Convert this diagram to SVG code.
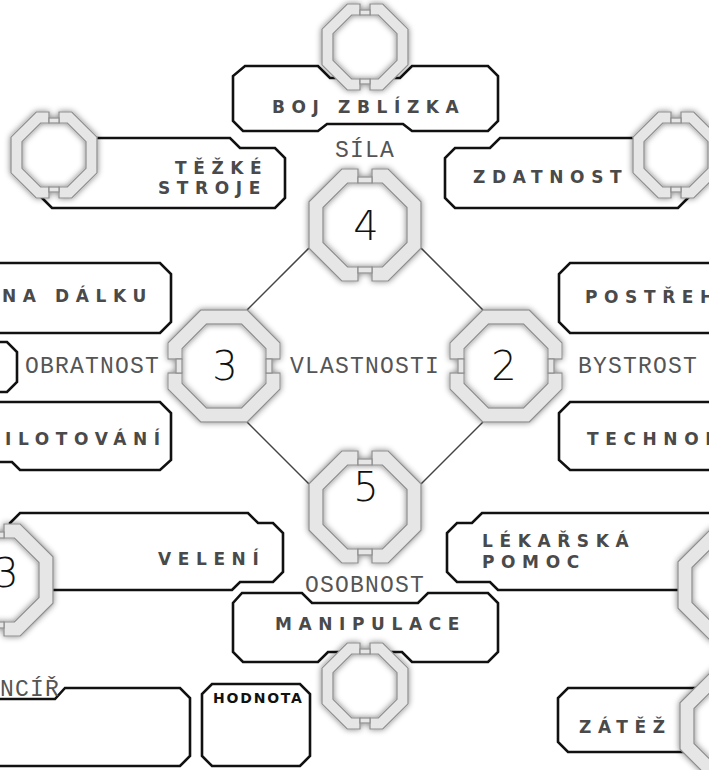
<svg xmlns="http://www.w3.org/2000/svg" width="709" height="770" viewBox="0 0 709 770">
<defs>
<style>
.box{fill:#fff;stroke:#111;stroke-width:2.6;stroke-linejoin:miter}
.ring{fill:#e6e6e6;stroke:#8e8e8e;stroke-width:1.2}
.hole{fill:#fff}
.sk{font-family:"DejaVu Sans",Verdana,sans-serif;font-weight:bold;font-size:17px;letter-spacing:6.6px;fill:#4a4a4a}
.mono{font-family:"Liberation Mono","DejaVu Sans Mono",monospace;font-size:23px;letter-spacing:1.2px;fill:#555}
.num{font-family:"DejaVu Sans",sans-serif;font-weight:200;font-size:40px;fill:#111;text-anchor:middle}
.ln{stroke:#444;stroke-width:1.5;fill:none}
.hd{font-family:"DejaVu Sans",sans-serif;font-weight:bold;font-size:14px;letter-spacing:1.8px;fill:#111}
</style>
<filter id="glow" x="-30%" y="-30%" width="160%" height="160%">
<feGaussianBlur in="SourceAlpha" stdDeviation="3.2"/>
<feComponentTransfer><feFuncA type="linear" slope="0.5"/></feComponentTransfer>
<feMerge><feMergeNode/><feMergeNode in="SourceGraphic"/></feMerge>
</filter>
<g id="ringB">
<polygon class="hole" points="-23.2,-56 23.2,-56 56,-23.2 56,23.2 23.2,56 -23.2,56 -56,23.2 -56,-23.2"/>
<g filter="url(#glow)">
<path class="ring" d="M-7,-56H-23.2L-56,-23.2V23.2L-23.2,56H-7V42H-17.4L-42,17.4V-17.4L-17.4,-42H-7Z"/>
<path class="ring" d="M7,-56H23.2L56,-23.2V23.2L23.2,56H7V42H17.4L42,17.4V-17.4L17.4,-42H7Z"/>
<rect class="ring" x="-7" y="-48" width="14" height="6"/>
<rect class="ring" x="-7" y="42" width="14" height="6"/>
</g>
</g>
<g id="ringS">
<polygon class="hole" points="-17.8,-43 17.8,-43 43,-17.8 43,17.8 17.8,43 -17.8,43 -43,17.8 -43,-17.8"/>
<g filter="url(#glow)">
<path class="ring" d="M-5,-43H-17.8L-43,-17.8V17.8L-17.8,43H-5V32H-13.3L-32,13.3V-13.3L-13.3,-32H-5Z"/>
<path class="ring" d="M5,-43H17.8L43,-17.8V17.8L17.8,43H5V32H13.3L32,13.3V-13.3L13.3,-32H5Z"/>
<rect class="ring" x="-5" y="-37" width="10" height="5"/>
<rect class="ring" x="-5" y="32" width="10" height="5"/>
</g>
</g>
</defs>
<rect width="709" height="770" fill="#fff"/>

<g id="connectors">
<line class="ln" x1="309" y1="248" x2="247" y2="310"/>
<line class="ln" x1="421" y1="248" x2="483" y2="310"/>
<line class="ln" x1="247" y1="422" x2="309" y2="484"/>
<line class="ln" x1="483" y1="422" x2="421" y2="484"/>
</g>

<g id="node-boj-zblizka">
<path class="box" d="M245,66L318,66L330,78L400,78L412,66L488,66L498,76L498,121L488,131L412,131L403,124L327,124L318,131L243,131L233,121L233,76Z"/>
<use href="#ringS" x="365" y="47"/>
<text class="sk" x="272" y="113">BOJ ZBLÍZKA</text>
</g>

<g id="node-tezke-stroje">
<path class="box" d="M60,138L230,138L240,148L275,148L285,158L285,198L275,208L52,208L30,186L30,150Z"/>
<use href="#ringS" x="54" y="155"/>
<text class="sk" x="175" y="174">TĚŽKÉ</text>
<text class="sk" x="158" y="194">STROJE</text>
</g>

<g id="node-zdatnost">
<path class="box" d="M670,138L500,138L490,148L455,148L445,158L445,198L455,208L678,208L700,186L700,150Z"/>
<use href="#ringS" x="676" y="155"/>
<text class="sk" x="473" y="183">ZDATNOST</text>
</g>

<g id="node-na-dalku">
<path class="box" d="M-10,263L160,263L171,274L171,322L160,333L-10,333Z"/>
<text class="sk" x="2" y="302">NA DÁLKU</text>
</g>

<g id="node-postreh">
<path class="box" d="M720,263L570,263L559,274L559,322L570,333L720,333Z"/>
<text class="sk" x="585" y="303">POSTŘEH</text>
</g>

<g id="node-obratnost-box">
<path class="box" d="M-10,342L7,342L17,352L17,382L7,392L-10,392Z"/>
</g>

<g id="node-pilotovani">
<path class="box" d="M-10,402L160,402L171,413L171,460L160,470L20,470L12,462L-10,462Z"/>
<text class="sk" x="-14" y="445">PILOTOVÁNÍ</text>
</g>

<g id="node-technologie">
<path class="box" d="M720,402L570,402L559,413L559,460L570,470L720,470Z"/>
<text class="sk" x="587" y="445">TECHNOL</text>
</g>

<g id="node-sila">
<use href="#ringB" x="365" y="225"/>
<text class="num" x="366" y="240">4</text>
<text class="mono" x="365" y="157" text-anchor="middle">SÍLA</text>
</g>

<g id="node-obratnost">
<use href="#ringB" transform="translate(224,366) rotate(90)"/>
<text class="num" x="225" y="380">3</text>
<text class="mono" x="25" y="373">OBRATNOST</text>
</g>

<g id="node-bystrost">
<use href="#ringB" transform="translate(506,366) rotate(90)"/>
<text class="num" x="504" y="380">2</text>
<text class="mono" x="578" y="373">BYSTROST</text>
</g>

<g id="node-osobnost">
<use href="#ringB" x="365" y="507"/>
<text class="num" x="366" y="501">5</text>
<text class="mono" x="365" y="592" text-anchor="middle">OSOBNOST</text>
</g>

<g id="node-vlastnosti">
<text class="mono" x="365" y="373" text-anchor="middle">VLASTNOSTI</text>
</g>

<g id="node-veleni">
<path class="box" d="M10,560L10,523L20,513L248,513L258,523L273,523L283,533L283,572L273,582L240,582L232,590L40,590Z"/>
<use href="#ringB" x="-3" y="580"/>
<text class="num" x="6" y="587">3</text>
<text class="sk" x="158" y="565">VELENÍ</text>
</g>

<g id="node-lekarska-pomoc">
<path class="box" d="M720,560L720,523L710,513L482,513L472,523L457,523L447,533L447,572L457,582L490,582L498,590L690,590Z"/>
<use href="#ringB" x="734" y="585"/>
<text class="sk" x="482" y="547">LÉKAŘSKÁ</text>
<text class="sk" x="482" y="568">POMOC</text>
</g>

<g id="node-manipulace">
<path class="box" d="M242,593L302,593L312,603L418,603L428,593L488,593L498,603L498,652L488,662L412,662L402,652L328,652L318,662L243,662L233,652L233,603Z"/>
<use href="#ringS" x="365" y="686"/>
<text class="sk" x="275" y="630">MANIPULACE</text>
</g>

<g id="node-pancir">
<path class="box" d="M-10,699L55,699L65,688L180,688L190,698L190,756L180,766L-10,766Z"/>
<text class="mono" x="0" y="696">NCÍŘ</text>
</g>

<g id="node-hodnota">
<path class="box" d="M212,684L300,684L310,694L310,756L300,766L212,766L202,756L202,694Z"/>
<text class="hd" x="213" y="703">HODNOTA</text>
</g>

<g id="node-zatez">
<path class="box" d="M568,688L700,688L700,752L568,752L558,742L558,698Z"/>
<use href="#ringB" x="736" y="726"/>
<text class="sk" x="579" y="733">ZÁTĚŽ</text>
</g>
</svg>
